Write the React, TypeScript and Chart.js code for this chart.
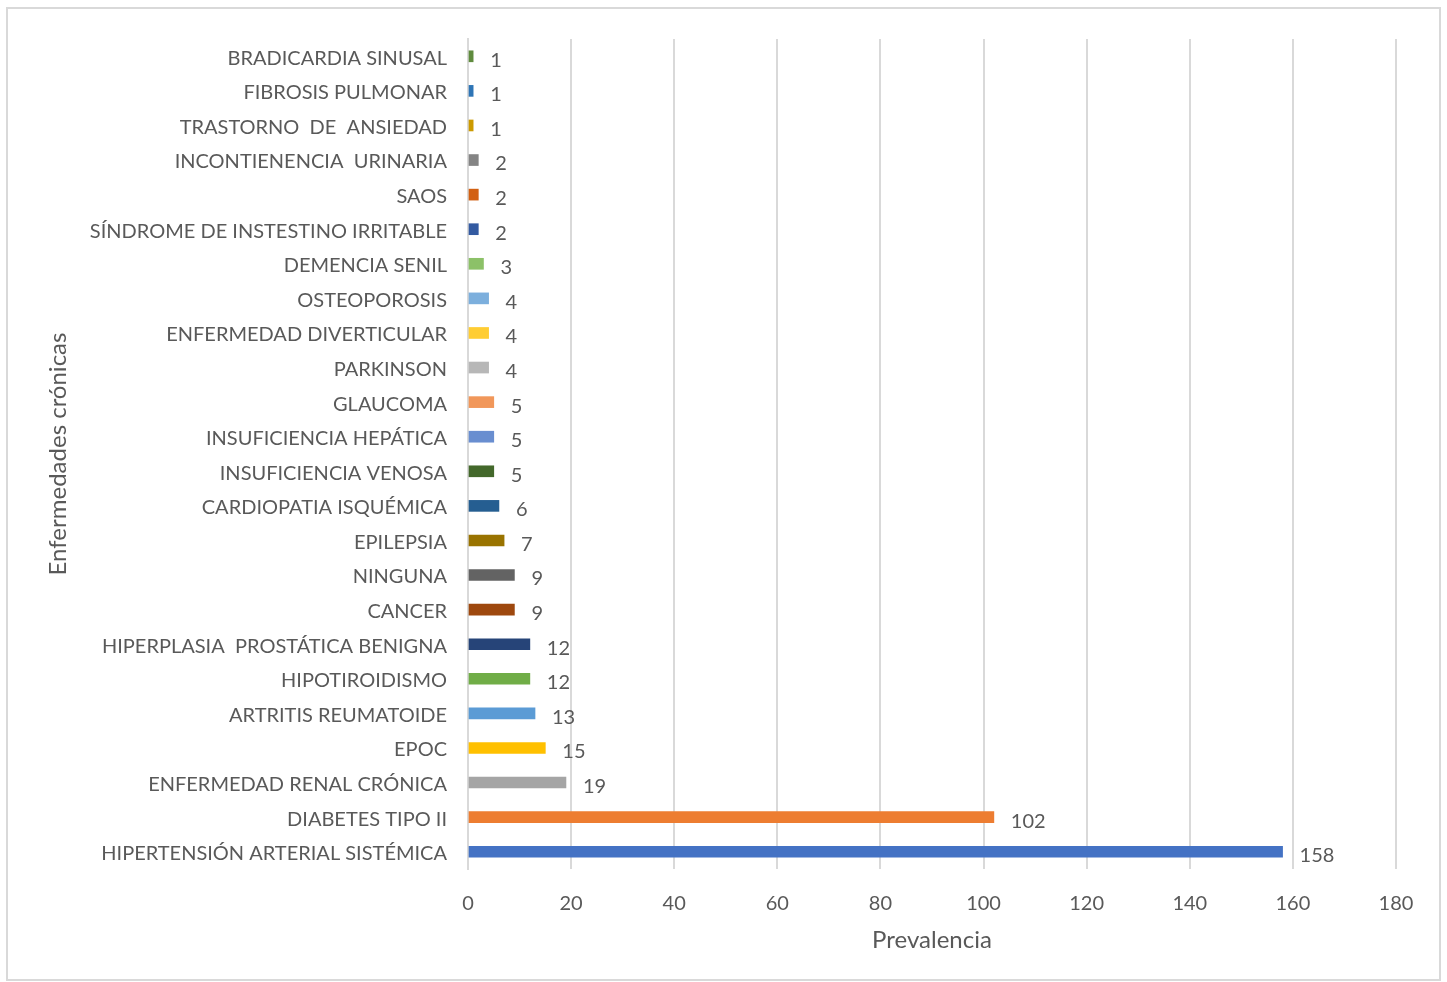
import React, { useEffect, useRef } from "react";
import { Chart, registerables } from "chart.js";

Chart.register(...registerables);

// Chronic conditions, top to bottom as listed on the chart
const categories: string[] = [
  "BRADICARDIA SINUSAL",
  "FIBROSIS PULMONAR",
  "TRASTORNO  DE  ANSIEDAD",
  "INCONTIENENCIA  URINARIA",
  "SAOS",
  "SÍNDROME DE INSTESTINO IRRITABLE",
  "DEMENCIA SENIL",
  "OSTEOPOROSIS",
  "ENFERMEDAD DIVERTICULAR",
  "PARKINSON",
  "GLAUCOMA",
  "INSUFICIENCIA HEPÁTICA",
  "INSUFICIENCIA VENOSA",
  "CARDIOPATIA ISQUÉMICA",
  "EPILEPSIA",
  "NINGUNA",
  "CANCER",
  "HIPERPLASIA  PROSTÁTICA BENIGNA",
  "HIPOTIROIDISMO",
  "ARTRITIS REUMATOIDE",
  "EPOC",
  "ENFERMEDAD RENAL CRÓNICA",
  "DIABETES TIPO II",
  "HIPERTENSIÓN ARTERIAL SISTÉMICA",
];

const prevalence: number[] = [
  1, 1, 1, 2, 2, 2, 3, 4, 4, 4, 5, 5, 5, 6, 7, 9, 9, 12, 12, 13, 15, 19, 102, 158,
];

const barColors: string[] = [
  "#5F8B3E",
  "#2E75B6",
  "#CC9A00",
  "#848484",
  "#D26012",
  "#335AA1",
  "#8CC168",
  "#7CAFDD",
  "#FFCD33",
  "#B7B7B7",
  "#F1975A",
  "#698ED0",
  "#43682B",
  "#255E91",
  "#997300",
  "#636363",
  "#9E480E",
  "#264478",
  "#70AD47",
  "#5B9BD5",
  "#FFC000",
  "#A5A5A5",
  "#ED7D31",
  "#4472C4",
];

const xTicks: number[] = [0, 20, 40, 60, 80, 100, 120, 140, 160, 180];

const FONT = "Lato, 'Open Sans', sans-serif";
const TEXT = "#595959";
const GRID = "#d9d9d9";

// Writes each bar's value just past its end
const valueLabels = {
  id: "valueLabels",
  afterDatasetsDraw(chart: any) {
    const { ctx } = chart;
    const meta = chart.getDatasetMeta(0);
    ctx.save();
    ctx.font = `20px ${FONT}`;
    ctx.fillStyle = TEXT;
    ctx.textAlign = "left";
    ctx.textBaseline = "middle";
    meta.data.forEach((bar: any, i: number) => {
      const v = chart.data.datasets[0].data[i];
      ctx.fillText(String(v), bar.x + 17, bar.y + 4);
    });
    ctx.restore();
  },
};

export default function App() {
  const ref = useRef<HTMLCanvasElement | null>(null);

  useEffect(() => {
    if (!ref.current) return;
    const chart = new Chart(ref.current, {
      type: "bar",
      data: {
        labels: categories,
        datasets: [
          {
            data: prevalence,
            backgroundColor: barColors,
            barThickness: 11,
          },
        ],
      },
      options: {
        indexAxis: "y",
        animation: false,
        responsive: false,
        maintainAspectRatio: false,
        layout: { padding: { top: 39, right: 51, left: 0, bottom: 0 } },
        plugins: {
          legend: { display: false },
          tooltip: { enabled: false },
        },
        scales: {
          x: {
            min: 0,
            max: 180,
            afterBuildTicks(scale: any) {
              scale.ticks = xTicks.map((v) => ({ value: v }));
            },
            afterFit(scale: any) {
              scale.height = 113;
            },
            grid: { color: GRID, lineWidth: 2, drawTicks: false },
            border: { display: false },
            ticks: {
              color: TEXT,
              font: { family: FONT, size: 20 },
              padding: 23,
            },
            title: {
              display: true,
              text: "Prevalencia",
              color: TEXT,
              font: { family: FONT, size: 24 },
              padding: { top: 0, bottom: 27 },
            },
          },
          y: {
            afterFit(scale: any) {
              scale.width = 468;
            },
            grid: { display: false, drawTicks: false },
            border: { display: true, color: GRID, width: 2 },
            ticks: {
              color: TEXT,
              font: { family: FONT, size: 20 },
              padding: 21,
              labelOffset: 2,
              autoSkip: false,
            },
            title: {
              display: true,
              text: "Enfermedades crónicas",
              color: TEXT,
              font: { family: FONT, size: 24 },
              padding: { top: 44, bottom: 0 },
            },
          },
        },
      },
      plugins: [valueLabels],
    });
    return () => chart.destroy();
  }, []);

  return (
    <div>
      <div
        style={{
          position: "fixed",
          left: 6,
          top: 7,
          width: 1435,
          height: 974,
          border: `2px solid ${GRID}`,
          boxSizing: "border-box",
          background: "#fff",
        }}
      />
      <canvas
        ref={ref}
        width={1447}
        height={982}
        style={{ position: "fixed", left: 0, top: 0, width: 1447, height: 982 }}
      />
    </div>
  );
}
